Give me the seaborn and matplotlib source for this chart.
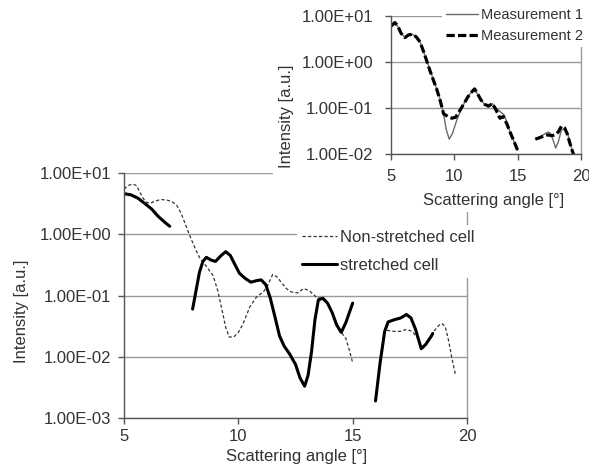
import numpy as np
import pandas as pd
import matplotlib
matplotlib.use("Agg")
import matplotlib.pyplot as plt
from matplotlib.patches import Rectangle
from matplotlib.ticker import FixedLocator, FuncFormatter, NullLocator
import seaborn as sns

# ---------------- data ----------------
# main chart: non-stretched cell (thin dotted)
ns_x1 = [5.0, 5.2, 5.4, 5.55, 5.7, 5.85, 6.0, 6.15, 6.3, 6.6, 6.9, 7.1, 7.3, 7.5, 7.7,
         7.9, 8.1, 8.3, 8.6, 8.9, 9.1, 9.3, 9.45, 9.6, 9.8, 10.0, 10.2, 10.5, 10.8, 11.1,
         11.3, 11.5, 11.7, 11.9, 12.1, 12.3, 12.6, 12.85, 13.1, 13.4, 13.7, 14.0, 14.3,
         14.5, 14.7, 14.85, 15.0]
ns_y1 = [5.5, 6.3, 6.6, 6.2, 4.8, 3.8, 3.3, 3.2, 3.4, 3.7, 3.6, 3.4, 3.0, 2.2, 1.4,
         0.9, 0.6, 0.42, 0.30, 0.21, 0.12, 0.055, 0.03, 0.021, 0.021, 0.025, 0.034,
         0.065, 0.095, 0.115, 0.15, 0.22, 0.20, 0.16, 0.13, 0.115, 0.11, 0.13, 0.12,
         0.095, 0.088, 0.065, 0.035, 0.025, 0.020, 0.013, 0.008]
ns_x2 = [16.5, 16.8, 17.1, 17.35, 17.6, 17.85, 18.05, 18.3, 18.55, 18.75, 18.9, 19.05,
         19.2, 19.35, 19.5]
ns_y2 = [0.027, 0.026, 0.026, 0.028, 0.026, 0.020, 0.014, 0.018, 0.026, 0.032, 0.035,
         0.031, 0.018, 0.009, 0.005]

# main chart: stretched cell (thick solid)
st_x1 = [5.0, 5.3, 5.6, 5.9, 6.2, 6.5, 6.8, 7.0]
st_y1 = [4.6, 4.4, 3.9, 3.2, 2.6, 1.95, 1.55, 1.35]
st_x2 = [8.0, 8.15, 8.3, 8.45, 8.6, 8.8, 9.0, 9.25, 9.45, 9.65, 9.85, 10.05, 10.3,
         10.55, 10.8, 11.0, 11.2, 11.4, 11.6, 11.8, 12.0, 12.25, 12.5, 12.7, 12.9,
         13.05, 13.2, 13.35, 13.5, 13.7, 13.9, 14.1, 14.3, 14.5, 14.7, 15.0]
st_y2 = [0.06, 0.12, 0.24, 0.36, 0.42, 0.38, 0.36, 0.45, 0.52, 0.45, 0.32, 0.23, 0.19,
         0.165, 0.175, 0.18, 0.15, 0.09, 0.045, 0.022, 0.015, 0.011, 0.0075, 0.0045,
         0.0033, 0.005, 0.012, 0.04, 0.085, 0.09, 0.075, 0.053, 0.033, 0.025, 0.036,
         0.075]
st_x3 = [16.0, 16.2, 16.4, 16.55, 16.8, 17.1, 17.35, 17.55, 17.75, 18.0, 18.2, 18.45, 18.5]
st_y3 = [0.0019, 0.008, 0.026, 0.037, 0.040, 0.043, 0.049, 0.043, 0.028, 0.0135, 0.016,
         0.022, 0.024]

# inset: Measurement 1 (thin solid)
m1_x1 = [5.0, 5.3, 5.5, 5.8, 6.1, 6.4, 6.7, 7.0, 7.3, 7.6, 7.85, 8.1, 8.35, 8.6, 8.9,
         9.15, 9.35, 9.6, 9.85, 10.2, 10.5, 10.8, 11.1, 11.35, 11.6, 11.85, 12.1, 12.4,
         12.7, 13.0, 13.3, 13.7, 13.95, 14.15, 14.4, 14.7, 15.0]
m1_y1 = [5.8, 7.0, 6.2, 4.2, 3.4, 3.8, 4.0, 3.5, 2.7, 1.6, 1.0, 0.65, 0.41, 0.27, 0.15,
         0.075, 0.035, 0.021, 0.028, 0.055, 0.09, 0.13, 0.18, 0.22, 0.25, 0.20, 0.15,
         0.12, 0.11, 0.125, 0.10, 0.08, 0.07, 0.047, 0.03, 0.019, 0.012]
m1_x2 = [16.4, 16.8, 17.1, 17.4, 17.6, 17.8, 18.0, 18.2, 18.45, 18.7, 18.9, 19.1, 19.3, 19.45]
m1_y2 = [0.021, 0.024, 0.027, 0.030, 0.028, 0.020, 0.0135, 0.018, 0.033, 0.036, 0.030,
         0.020, 0.012, 0.009]

# inset: Measurement 2 (thick dashed)
m2_x1 = [5.0, 5.3, 5.5, 5.8, 6.1, 6.4, 6.7, 7.0, 7.3, 7.6, 7.85, 8.1, 8.35, 8.6, 8.9,
         9.15, 9.5, 9.8, 10.1, 10.4, 10.8, 11.1, 11.35, 11.6, 11.85, 12.1, 12.4, 12.7,
         13.0, 13.3, 13.6, 13.85, 14.15, 14.4, 14.7, 15.0]
m2_y1 = [6.0, 7.2, 6.3, 4.2, 3.4, 3.9, 4.0, 3.5, 2.7, 1.6, 1.0, 0.62, 0.40, 0.26, 0.14,
         0.075, 0.065, 0.060, 0.063, 0.085, 0.13, 0.18, 0.22, 0.26, 0.20, 0.15, 0.12,
         0.11, 0.125, 0.09, 0.06, 0.065, 0.045, 0.03, 0.019, 0.012]
m2_x2 = [16.4, 16.8, 17.1, 17.4, 17.7, 17.95, 18.2, 18.45, 18.7, 18.9, 19.1, 19.3, 19.45]
m2_y2 = [0.021, 0.023, 0.025, 0.026, 0.025, 0.026, 0.030, 0.040, 0.037, 0.028, 0.018,
         0.012, 0.009]

x_ticks = [5, 10, 15, 20]
main_y_ticks = [1e-3, 1e-2, 1e-1, 1e0, 1e1]
inset_y_ticks = [1e-2, 1e-1, 1e0, 1e1]

label_ns = "Non-stretched cell"
label_st = "stretched cell"
label_m1 = "Measurement 1"
label_m2 = "Measurement 2"
x_title = "Scattering angle [°]"
y_title = "Intensity [a.u.]"


def frame(segments, label):
    parts = []
    for i, (xs, ys) in enumerate(segments):
        parts.append(pd.DataFrame({"x": xs, "y": ys, "seg": i, "series": label}))
    return pd.concat(parts, ignore_index=True)


df_ns = frame([(ns_x1, ns_y1), (ns_x2, ns_y2)], label_ns)
df_st = frame([(st_x1, st_y1), (st_x2, st_y2), (st_x3, st_y3)], label_st)
df_m1 = frame([(m1_x1, m1_y1), (m1_x2, m1_y2)], label_m1)
df_m2 = frame([(m2_x1, m2_y1), (m2_x2, m2_y2)], label_m2)

# ---------------- style ----------------
sns.set_theme(style="white")
plt.rcParams["font.family"] = ["Liberation Sans", "DejaVu Sans"]
TXT = "#333333"
DARK = "#555555"
GRID = "#9a9a9a"
FS = 12

W, H = 589, 467
fig = plt.figure(figsize=(W / 100, H / 100), dpi=100)
fig.patch.set_facecolor("white")


def px_rect(l, t, r, b):
    return [l / W, 1 - b / H, (r - l) / W, (b - t) / H]


def style_axes(ax, yticks, ylim, tick_pad_y, tick_pad_x):
    ax.set_yscale("log")
    ax.set_xlim(5, 20)
    ax.set_ylim(*ylim)
    ax.xaxis.set_major_locator(FixedLocator(x_ticks))
    ax.yaxis.set_major_locator(FixedLocator(yticks))
    ax.yaxis.set_minor_locator(NullLocator())
    ax.xaxis.set_minor_locator(NullLocator())
    ax.yaxis.set_major_formatter(FuncFormatter(lambda v, p: f"{v:.2E}"))
    ax.xaxis.set_major_formatter(FuncFormatter(lambda v, p: f"{v:g}"))
    ax.grid(True, axis="y", color=GRID, lw=1.0)
    ax.grid(False, axis="x")
    ax.set_axisbelow(True)
    for s in ["left", "bottom"]:
        ax.spines[s].set_color(DARK)
        ax.spines[s].set_linewidth(1.0)
    ax.spines["top"].set_visible(False)
    ax.spines["right"].set_color(GRID)
    ax.spines["right"].set_linewidth(1.0)
    ax.tick_params(axis="y", which="major", left=True, direction="out", length=4,
                   width=1, color=DARK, labelsize=FS, labelcolor=TXT, pad=tick_pad_y)
    ax.tick_params(axis="x", which="major", bottom=True, direction="out", length=4,
                   width=1, color=DARK, labelsize=FS, labelcolor=TXT, pad=tick_pad_x)
    ax.set_facecolor("white")


def dedup_legend(ax):
    h, l = ax.get_legend_handles_labels()
    seen = {}
    for hh, ll in zip(h, l):
        seen.setdefault(ll, hh)
    return list(seen.values()), list(seen.keys())


# ---------------- main axes ----------------
ax = fig.add_axes(px_rect(124, 173, 467, 418))
ax.set_zorder(0)
sns.lineplot(data=df_ns, x="x", y="y", units="seg", estimator=None, sort=False,
             color="#333333", lw=0.9, linestyle=(0, (2.6, 1.8)), ax=ax, label=label_ns)
sns.lineplot(data=df_st, x="x", y="y", units="seg", estimator=None, sort=False,
             color="#000000", lw=2.2, ax=ax, label=label_st)
style_axes(ax, main_y_ticks, (1e-3, 1e1), 5, 4)
ax.set_xlabel(x_title, fontsize=FS, color=TXT)
ax.set_ylabel(y_title, fontsize=FS, color=TXT)
ax.xaxis.set_label_coords((297 - 124) / 343, (418 - 456) / 245)
ax.xaxis.label.set_va("center")
ax.yaxis.set_label_coords((21 - 124) / 343, (418 - 311) / 245)
ax.yaxis.label.set_va("center")

hs, ls = dedup_legend(ax)
leg = ax.legend(hs, ls, loc="upper left",
                bbox_to_anchor=(297 / W, 1 - 225 / H), bbox_transform=fig.transFigure,
                frameon=True, facecolor="white", edgecolor="none", framealpha=1,
                fancybox=False, borderpad=0.3, borderaxespad=0, handlelength=2.1,
                handletextpad=0.2, labelspacing=0.75, fontsize=FS)
for t in leg.get_texts():
    t.set_color(TXT)
leg.set_zorder(10)

# white background behind the inset (covers the main chart's top right)
fig.add_artist(Rectangle((273 / W, 1 - 212 / H), 1 - 273 / W, 212 / H,
                         transform=fig.transFigure, facecolor="white",
                         edgecolor="none", zorder=1))

# ---------------- inset axes ----------------
ax2 = fig.add_axes(px_rect(391, 16, 581, 154))
ax2.set_zorder(2)
sns.lineplot(data=df_m1, x="x", y="y", units="seg", estimator=None, sort=False,
             color="#6a6a6a", lw=1.0, ax=ax2, label=label_m1)
sns.lineplot(data=df_m2, x="x", y="y", units="seg", estimator=None, sort=False,
             color="#000000", lw=2.3, linestyle=(0, (2.6, 1.0)), ax=ax2, label=label_m2)
style_axes(ax2, inset_y_ticks, (1e-2, 1e1), 9, 7)
ax2.set_xlabel(x_title, fontsize=FS, color=TXT)
ax2.set_ylabel(y_title, fontsize=FS, color=TXT)
ax2.xaxis.set_label_coords((494 - 391) / 190, (154 - 200) / 138)
ax2.xaxis.label.set_va("center")
ax2.yaxis.set_label_coords((286 - 391) / 190, (154 - 116) / 138)
ax2.yaxis.label.set_va("center")

hs, ls = dedup_legend(ax2)
leg2 = ax2.legend(hs, ls, loc="upper left",
                  bbox_to_anchor=(442 / W, 1 - 4 / H), bbox_transform=fig.transFigure,
                  frameon=True, facecolor="white", edgecolor="none", framealpha=1,
                  fancybox=False, borderpad=0.3, borderaxespad=0, handlelength=2.2,
                  handletextpad=0.15, labelspacing=0.45, fontsize=10.5)
for t in leg2.get_texts():
    t.set_color(TXT)
leg2.set_zorder(10)

fig.savefig("out.png", dpi=100, facecolor="white")
